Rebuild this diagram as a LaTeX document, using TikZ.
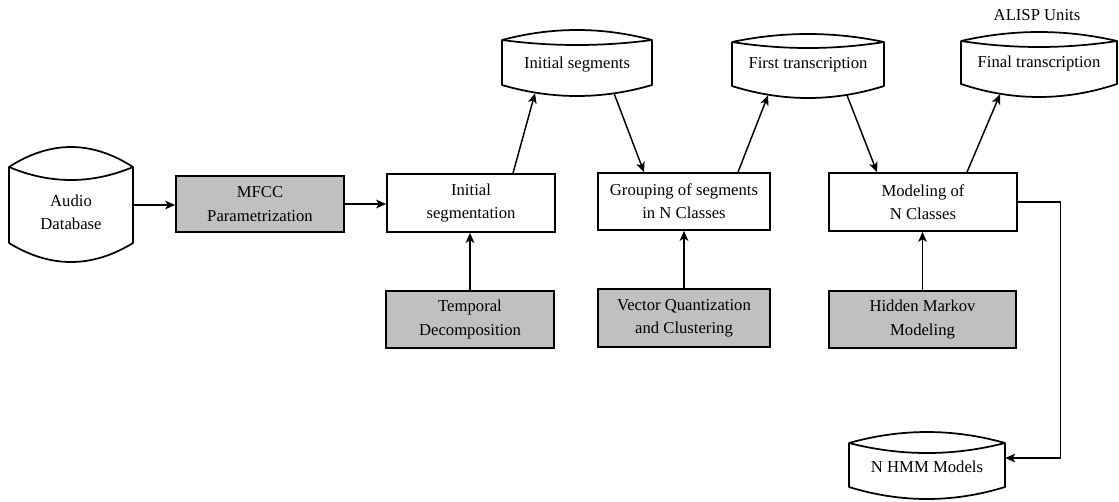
\documentclass[tikz,border=0pt]{standalone}
\usepackage{fontspec}
\setmainfont{Liberation Serif}
\usetikzlibrary{arrows.meta,calc}
\definecolor{boxgray}{HTML}{C0C0C0}
\tikzset{
  box/.style={draw, line width=1.3pt, inner sep=0pt, align=center, font=\fontsize{12.5}{17.5}\selectfont},
  graybox/.style={box, fill=boxgray},
  body/.style={draw=none, inner sep=0pt},
  lbl/.style={inner sep=0pt, align=center, font=\fontsize{12.5}{17.5}\selectfont},
  cyl/.style={line width=1.3pt, line join=round},
  arr/.style={line width=1.1pt, -{Stealth[length=7.5pt,width=6.5pt,inset=2pt]}},
  thin arr/.style={line width=0.9pt, -{Stealth[length=7.5pt,width=6.5pt,inset=2pt]}}
}
% #1 x1, #2 x2, #3 y of side tops, #4 y of side bottoms, #5 top bulge, #6 lens lower bulge, #7 bottom bulge
\newcommand{\dbshape}[7]{%
  \draw[cyl] (#1,#3) .. controls ({#1+(#2-#1)/3},{#3-4*#5/3}) and ({#2-(#2-#1)/3},{#3-4*#5/3}) .. (#2,#3)
     -- (#2,#4) .. controls ({#2-(#2-#1)/3},{#4+4*#7/3}) and ({#1+(#2-#1)/3},{#4+4*#7/3}) .. (#1,#4) -- cycle;
  \draw[cyl] (#1,#3) .. controls ({#1+(#2-#1)/3},{#3+4*#6/3}) and ({#2-(#2-#1)/3},{#3+4*#6/3}) .. (#2,#3);
}
\begin{document}
\begin{tikzpicture}[x=0.75pt,y=-0.75pt]
\useasboundingbox (0,0) rectangle (1119,501);

% cylinders (data stores)
\dbshape{9}{133}{167}{243}{20}{13}{19}
\node[body, minimum width=93pt, minimum height=57pt] (audio) at (71,205) {};
\node[lbl] (audiotxt) at (71,212) {Audio\\Database};

\dbshape{502}{652}{40}{85}{10}{5}{11}
\node[body, minimum width=112.5pt, minimum height=33.75pt] (iseg) at (577,62.5) {};
\node[lbl] (isegtxt) at (577,65) {Initial segments};

\dbshape{732}{884}{42}{86}{8}{6}{12}
\node[body, minimum width=114pt, minimum height=33pt] (ft) at (808,64) {};
\node[lbl] (fttxt) at (808,65) {First transcription};

\dbshape{961}{1117}{41}{84}{9}{6}{13}
\node[body, minimum width=117pt, minimum height=32.25pt] (final) at (1039,62.5) {};
\node[lbl] (finaltxt) at (1039,63) {Final transcription};
\node[lbl] (alisp) at (1037,15) {ALISP Units};

\dbshape{849}{1005}{443}{487}{11}{10}{12}
\node[body, minimum width=117pt, minimum height=33pt] (nhmm) at (927,465) {};
\node[lbl] (nhmmtxt) at (927,467) {N HMM Models};

% process boxes
\node[graybox, minimum width=126pt, minimum height=42pt] (mfcc) at (260,204) {MFCC\\Parametrization};
\node[box, minimum width=126pt, minimum height=43.5pt] (initseg) at (471,203) {Initial\\segmentation};
\node[box, minimum width=129pt, minimum height=42.75pt] (group) at (684,201.5) {Grouping of segments\\in N Classes};
\node[box, minimum width=141pt, minimum height=43.5pt] (model) at (923,202) {Modeling of\\N Classes};
\node[graybox, minimum width=126pt, minimum height=42.75pt] (temporal) at (470,319.5) {Temporal\\Decomposition};
\node[graybox, minimum width=129pt, minimum height=43.5pt] (vq) at (684,318) {Vector Quantization\\and Clustering};
\node[graybox, minimum width=140.25pt, minimum height=42.75pt] (hmm) at (922.5,319.5) {Hidden Markov\\Modeling};

% connectors
\draw[arr] (audio.east) -- (audio.east -| mfcc.west);
\draw[arr] (mfcc.east) -- (mfcc.east -| initseg.west);
\draw[arr] (temporal.north) -- (temporal.north |- initseg.south);
\draw[arr] (vq.north) -- (vq.north |- group.south);
\draw[arr] (hmm.north) -- (hmm.north |- model.south);

\draw[arr] ([shift={(42,0)}]initseg.north) -- ([shift={(-42,8)}]iseg.south);
\draw[arr] ([shift={(37,8)}]iseg.south) -- ([shift={(-40,0)}]group.north);
\draw[arr] ([shift={(54,0)}]group.north) -- ([shift={(-40,9)}]ft.south);
\draw[arr] ([shift={(39,9)}]ft.south) -- ([shift={(-46,0)}]model.north);
\draw[arr] ([shift={(44,0)}]model.north) -- ([shift={(-39,10)}]final.south);

\draw[thin arr] (model.east) -- ++(43,0) |- ([shift={(0,-7)}]nhmm.east);
\end{tikzpicture}
\end{document}
